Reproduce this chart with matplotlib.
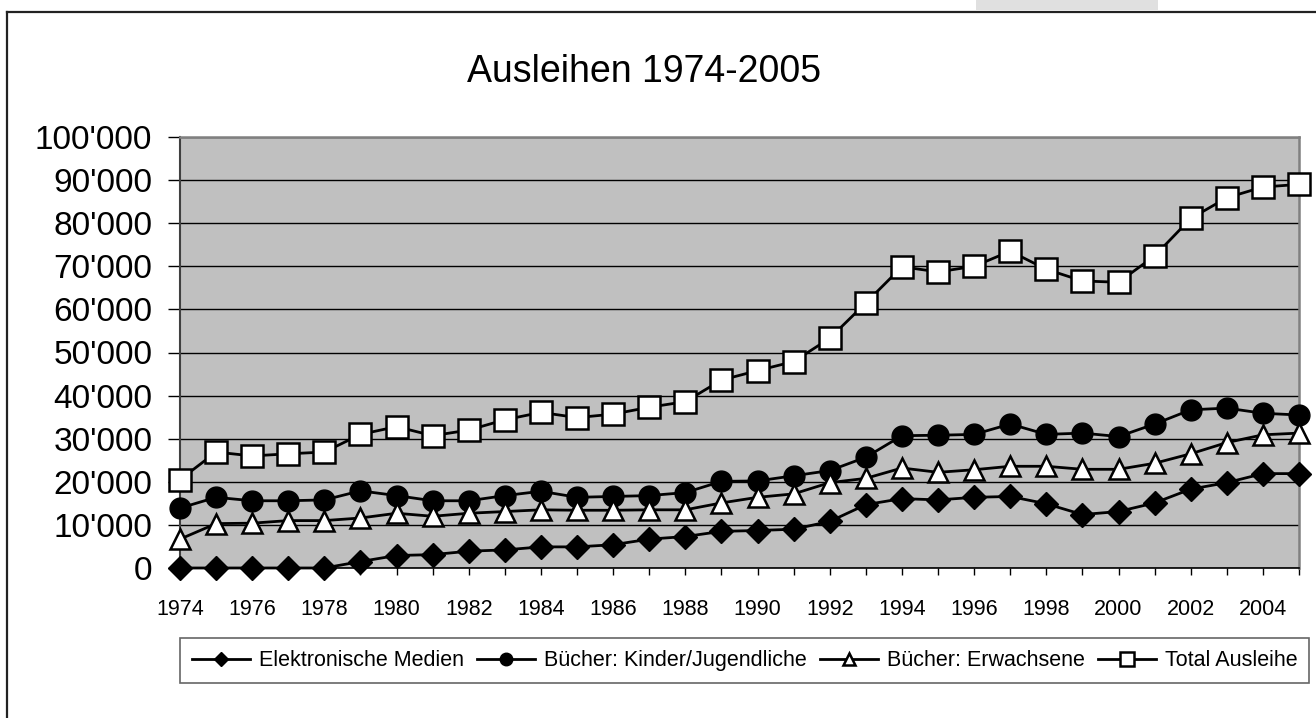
import matplotlib
matplotlib.use("Agg")
import matplotlib.pyplot as plt
from matplotlib.ticker import FuncFormatter, MultipleLocator
from matplotlib.lines import Line2D
from matplotlib.patches import Rectangle

plt.rcParams['font.family'] = ['Liberation Sans', 'DejaVu Sans']

years = list(range(1974, 2006))

elektronisch = [0, 0, 0, 0, 0, 1500, 2900, 3100, 3900, 4200, 4900, 4900, 5400, 6700, 7300, 8500,
                8700, 9000, 10800, 14700, 16100, 15800, 16400, 16600, 14900, 12400, 13100, 15100,
                18300, 19800, 21900, 21900]
kinder = [13900, 16400, 15600, 15600, 15800, 17900, 16800, 15600, 15600, 16800, 17800, 16400, 16600,
          16800, 17500, 20100, 20200, 21400, 22600, 25700, 30700, 30800, 31000, 33400, 31000, 31300,
          30500, 33400, 36700, 37100, 35900, 35500]
erwachsene = [6700, 10300, 10400, 11000, 11000, 11600, 12700, 12000, 12700, 13100, 13500, 13400, 13400,
              13500, 13500, 15100, 16400, 17200, 19800, 20800, 23200, 22200, 22800, 23600, 23600, 22900,
              22900, 24300, 26500, 29100, 30900, 31300]
total = [20500, 26900, 26000, 26500, 26900, 31000, 32800, 30700, 32000, 34400, 36100, 34900, 35700,
         37300, 38600, 43600, 45800, 47900, 53300, 61500, 69900, 68700, 70000, 73500, 69300, 66600,
         66300, 72400, 81100, 85900, 88400, 89000]

series_names = ["Elektronische Medien", "Bücher: Kinder/Jugendliche", "Bücher: Erwachsene", "Total Ausleihe"]

W, H = 1316, 718
fig = plt.figure(figsize=(W / 100, H / 100), dpi=100)
ax = fig.add_axes([180 / W, 1 - 568 / H, (1299 - 180) / W, (568 - 137) / H])

# outer chart border (left and top only visible) and grey strip
fig.add_artist(Line2D([7 / W, 7 / W], [0, 1 - 12 / H], color='#222222', lw=1.6, transform=fig.transFigure))
fig.add_artist(Line2D([7 / W, 1], [1 - 12 / H, 1 - 12 / H], color='#222222', lw=1.6, transform=fig.transFigure))
fig.add_artist(Rectangle((976 / W, 1 - 10 / H), (1158 - 976) / W, 10 / H, facecolor='#e0e0e0',
                         edgecolor='none', transform=fig.transFigure))

ax.set_facecolor('#c0c0c0')
ax.set_xlim(1974, 2005)
ax.set_ylim(0, 100000)
ax.yaxis.set_major_locator(MultipleLocator(10000))
ax.yaxis.set_major_formatter(FuncFormatter(lambda v, p: f"{v:,.0f}".replace(',', "'")))
ax.grid(axis='y', color='#000000', lw=1.0, zorder=1)
ax.set_axisbelow(True)

ax.set_xticks(years)
ax.set_xticklabels([str(y) if y % 2 == 0 else '' for y in years])

ax.tick_params(axis='y', direction='out', length=9, width=1, pad=11, labelsize=24, colors='#000000')
ax.tick_params(axis='x', direction='out', length=5, width=1, pad=17, labelsize=15.5, colors='#000000')

for s in ['top', 'right']:
    ax.spines[s].set_color('#808080')
    ax.spines[s].set_linewidth(1.8)
ax.spines['left'].set_color('#404040')
ax.spines['left'].set_linewidth(1.5)
ax.spines['bottom'].set_color('#000000')
ax.spines['bottom'].set_linewidth(1.2)

lw = 2.0
h1, = ax.plot(years, elektronisch, color='black', lw=lw, marker='D', markersize=12.5,
              markerfacecolor='black', markeredgecolor='black', zorder=3, clip_on=False)
h2, = ax.plot(years, kinder, color='black', lw=lw, marker='o', markersize=15,
              markerfacecolor='black', markeredgecolor='black', zorder=3, clip_on=False)
h3, = ax.plot(years, erwachsene, color='black', lw=lw, marker='^', markersize=15,
              markerfacecolor='white', markeredgecolor='black', markeredgewidth=1.8, zorder=4, clip_on=False)
h4, = ax.plot(years, total, color='black', lw=lw, marker='s', markersize=16,
              markerfacecolor='white', markeredgecolor='black', markeredgewidth=1.8, zorder=5, clip_on=False)

fig.text(644 / W, 1 - 72 / H, "Ausleihen 1974-2005", fontsize=27, ha='center', va='center')

leg = fig.legend([h1, h2, h3, h4], series_names, loc='upper left', bbox_to_anchor=(180 / W, 1 - 638 / H),
                 bbox_transform=fig.transFigure, ncol=4, fontsize=15.5, frameon=True, fancybox=False,
                 markerscale=0.6, handlelength=2.7, handletextpad=0.4, columnspacing=0.62,
                 borderpad=0.56, borderaxespad=0)
leg.get_frame().set_edgecolor('#404040')
leg.get_frame().set_linewidth(1.2)

fig.savefig("out.png", dpi=100, facecolor='white')
